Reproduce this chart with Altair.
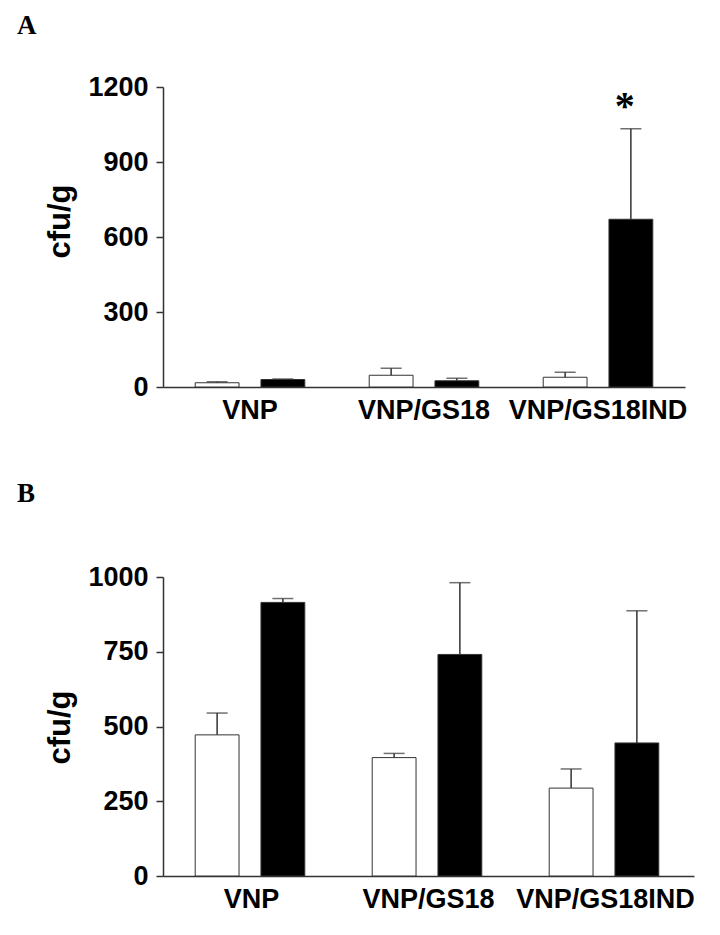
import altair as alt
import pandas as pd

groups = ["VNP", "VNP/GS18", "VNP/GS18IND"]
conditions = ["open", "filled"]

# Panel A values (mean and upper error)
a_open = [17, 47, 39]
a_open_err = [4, 28, 20]
a_filled = [30, 25, 671]
a_filled_err = [2, 10, 362]
a_stars = ["", "", "*"]

# Panel B values
b_open = [472, 396, 294]
b_open_err = [73, 14, 64]
b_filled = [915, 741, 445]
b_filled_err = [13, 240, 442]

a_ticks = [0, 300, 600, 900, 1200]
b_ticks = [0, 250, 500, 750, 1000]


def frame(op, ope, fi, fie, stars):
    rows = []
    for i, g in enumerate(groups):
        rows.append(dict(group=g, cond="open", value=op[i], upper=op[i] + ope[i], star=""))
        rows.append(dict(group=g, cond="filled", value=fi[i], upper=fi[i] + fie[i], star=stars[i]))
    return pd.DataFrame(rows)


def panel(df, letter, ticks, width, height, title_y):
    x = alt.X(
        "group:N",
        sort=groups,
        scale=alt.Scale(paddingInner=0, paddingOuter=0),
        axis=alt.Axis(
            title=None, labelAngle=0, ticks=False, labelPadding=10,
            labelFontSize=27, labelFont="Liberation Sans", labelFontWeight="bold",
            labelColor="black", domainColor="#333", domainWidth=1.5,
        ),
    )
    xo = alt.XOffset("cond:N", sort=conditions,
                     scale=alt.Scale(paddingInner=1 / 3, paddingOuter=0.49))
    y = alt.Y(
        "value:Q", scale=alt.Scale(domain=[0, ticks[-1]], nice=False),
        axis=alt.Axis(
            values=ticks, format="d", title="cfu/g", grid=False,
            labelFontSize=27, labelFont="Liberation Sans", labelFontWeight="bold",
            labelColor="black", labelPadding=8,
            tickSize=7, tickColor="#333", tickWidth=1.5,
            domainColor="#333", domainWidth=1.5,
            titleFont="Liberation Sans", titleFontSize=31, titleFontWeight="bold",
            titleColor="black", titleX=-87, titleY=title_y,
        ),
    )
    base = alt.Chart(df)
    bars = base.mark_bar(stroke="#333", strokeWidth=1).encode(
        x=x, xOffset=xo, y=y,
        fill=alt.Fill("cond:N", scale=alt.Scale(domain=conditions, range=["white", "black"]), legend=None),
    )
    rule = base.mark_rule(color="#333", strokeWidth=1.5).encode(
        x=x, xOffset=xo, y="value:Q", y2="upper:Q")
    cap = base.mark_tick(color="#333", thickness=1.5, size=21).encode(
        x=x, xOffset=xo, y="upper:Q")
    star = base.mark_text(font="Liberation Serif", fontSize=40, fontWeight="bold",
                          color="black", dy=-22, dx=-6, baseline="middle").encode(
        x=x, xOffset=xo, y="upper:Q", text="star:N")
    return alt.layer(bars, rule, cap, star).properties(
        width=width, height=height,
        title=alt.TitleParams(letter, anchor="start", frame="group", dx=-146,
                              font="Liberation Serif", fontSize=27, fontWeight="bold",
                              color="black", offset=33),
    )


pa = panel(frame(a_open, a_open_err, a_filled, a_filled_err, a_stars), "A", a_ticks, 522, 300, 134)
pb = panel(frame(b_open, b_open_err, b_filled, b_filled_err, ["", "", ""]), "B", b_ticks, 531, 299, 150)

chart = alt.vconcat(pa, pb, spacing=56).configure_view(stroke=None).properties(
    padding={"left": 9, "top": 4, "right": 5, "bottom": 5}
)

chart.save("out.html", embed_options={"renderer": "svg", "actions": False})
